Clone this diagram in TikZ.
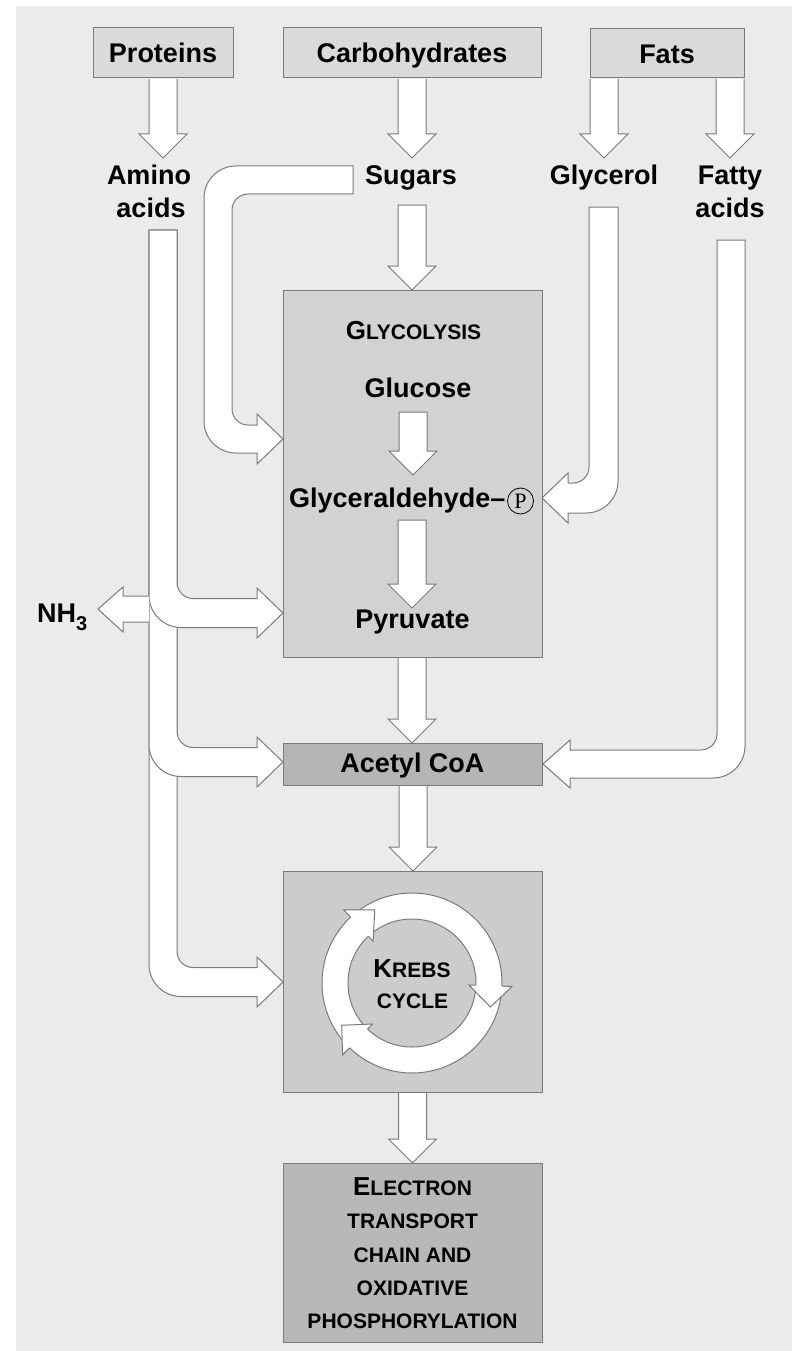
\documentclass[tikz,border=0pt]{standalone}
\usepackage{fontspec}
\setmainfont{Liberation Sans}
\newfontfamily\serifP{Liberation Serif}
\definecolor{bgc}{HTML}{EBEBEB}
\definecolor{topbox}{HTML}{DADADA}
\definecolor{glyc}{HTML}{D2D2D2}
\definecolor{acet}{HTML}{B5B5B5}
\definecolor{krebsc}{HTML}{CCCCCC}
\definecolor{etcc}{HTML}{B8B8B8}
\definecolor{linec}{HTML}{7A7A7A}
\tikzset{
  blk/.style={fill=white, draw=linec, line width=1pt, line join=miter},
  box/.style={draw=linec, line width=1pt, inner sep=0pt, outer sep=0pt},
  lblfont/.style={font=\fontsize{27}{32}\selectfont\bfseries},
  lbl/.style={lblfont, inner sep=0pt, anchor=base},
  sclbl/.style={font=\bfseries, inner sep=0pt, anchor=base},
}
\newcommand\BigC[1]{{\fontsize{26}{30}\selectfont #1}}
\newcommand\SmC[1]{{\fontsize{21}{25}\selectfont #1}}
% straight block arrow pointing down: x, top y, tip y, closing
\newcommand\dnarrow[4]{%
  \filldraw[blk] ({#1-14},#2) -- ({#1-14},{#3-24}) -- ({#1-24},{#3-24}) -- (#1,#3)
    -- ({#1+24},{#3-24}) -- ({#1+14},{#3-24}) -- ({#1+14},#2) #4;}
% branch of the amino-acid pipe: centre y of the horizontal part
\newcommand\aminobranch[1]{%
  \filldraw[blk] (149,230) -- (177,230) -- (177,{#1-30.5})
    .. controls (177,{#1-21.7}) and (184.2,{#1-14.5}) .. (193,{#1-14.5})
    -- (257,{#1-14.5}) -- (257,{#1-25}) -- (283,#1) -- (257,{#1+25}) -- (257,{#1+14.5})
    -- (181,{#1+14.5}) .. controls (163.3,{#1+14.5}) and (149,{#1+0.2}) .. (149,{#1-17.5})
    -- cycle;}
% arrow head on the Krebs ring: base angle, tip angle
\newcommand\ringhead[2]{%
  \fill[white] (#1:57) -- (#2:82) -- (#1:100) -- cycle;
  \draw[draw=linec, line width=1pt, line join=miter] (#1:90) -- (#1:100) -- (#2:82) -- (#1:57) -- (#1:64);}
\begin{document}
\begin{tikzpicture}[x=1pt, y=-1pt]
\useasboundingbox (0,0) rectangle (792,1351);
\fill[white] (0,0) rectangle (792,1351);
\fill[bgc] (16,6) rectangle (792,1351);

% boxes
\node[box, fill=topbox, minimum width=140pt, minimum height=50pt, lblfont, text height=20pt, text depth=0pt] (prot) at (163,53) {Proteins};
\node[box, fill=topbox, minimum width=258pt, minimum height=50pt, lblfont, text height=20pt, text depth=0pt] (carb) at (412,53) {Carbohydrates};
\node[box, fill=topbox, minimum width=154pt, minimum height=49pt, lblfont, text height=20pt, text depth=0pt] (fats) at (667,53.5) {Fats};
\node[box, fill=glyc, minimum width=259pt, minimum height=367pt] (glyco) at (412.5,473.5) {};
\node[box, fill=acet, minimum width=259pt, minimum height=42pt, lblfont, text height=19.5pt, text depth=3.5pt] (acetyl) at (412.5,764) {Acetyl CoA};
\node[box, fill=krebsc, minimum width=259pt, minimum height=221pt] (krebs) at (412.5,981.5) {};
\node[box, fill=etcc, minimum width=259pt, minimum height=179pt] (etc) at (412.5,1252.5) {};

% straight arrows
\dnarrow{163}{79}{158}{}
\dnarrow{412}{79}{158}{}
\dnarrow{604}{79}{158}{}
\dnarrow{730}{79}{158}{}
\dnarrow{412}{205}{290}{-- cycle}
\dnarrow{413}{412}{475}{-- cycle}
\dnarrow{412}{520}{608}{-- cycle}
\dnarrow{412}{658}{743}{}
\dnarrow{413}{786}{871}{}
\dnarrow{412.5}{1093}{1163}{}

% sugars -> glycolysis pipe
\filldraw[blk] (353,166) -- (236,166) .. controls (218.3,166) and (204,180.3) .. (204,198)
  -- (204,421) .. controls (204,438.7) and (218.3,453) .. (236,453)
  -- (257,453) -- (257,464) -- (283,439) -- (257,414) -- (257,425)
  -- (248,425) .. controls (239.2,425) and (232,417.8) .. (232,409)
  -- (232,210) .. controls (232,201.2) and (239.2,194) .. (248,194)
  -- (353,194) -- cycle;

% glycerol pipe
\filldraw[blk] (589,207) -- (618,207) -- (618,481) .. controls (618,498.7) and (603.7,513) .. (586,513)
  -- (568,513) -- (568,523) -- (542,498) -- (568,473) -- (568,483)
  -- (573,483) .. controls (581.8,483) and (589,475.8) .. (589,467) -- cycle;

% fatty acids pipe
\filldraw[blk] (717,240) -- (745,240) -- (745,746) .. controls (745,763.7) and (730.7,778) .. (713,778)
  -- (570,778) -- (570,788) -- (543,764) -- (570,740) -- (570,750)
  -- (701,750) .. controls (709.8,750) and (717,742.8) .. (717,734) -- cycle;

% amino acids pipes
\aminobranch{982}
\aminobranch{762}
\aminobranch{613}
% NH3 arrow
\filldraw[blk] (149,596) -- (123,596) -- (123,587) -- (98,609) -- (123,632) -- (123,622) -- (149,622);

% Krebs ring
\begin{scope}[shift={(412,983)}, yscale=-1]
  \filldraw[fill=white, draw=linec, line width=1pt] (0,0) circle (90);
  \filldraw[fill=krebsc, draw=linec, line width=1pt] (0,0) circle (64);
  \ringhead{133}{117}
  \ringhead{-2}{-17}
  \ringhead{226}{211}
\end{scope}

% labels
\node[lbl] (amino1) at (149,185) {Amino};
\node[lbl] (amino2) at (151,217) {acids};
\node[lbl] (sugars) at (411,185) {Sugars};
\node[lbl] (glycerol) at (604,185) {Glycerol};
\node[lbl] (fatty1) at (730,185) {Fatty};
\node[lbl] (fatty2) at (730,217) {acids};
\node[sclbl] (glytitle) at (413.5,339) {\BigC{G}\SmC{LYCOLYSIS}};
\node[lbl] (glucose) at (418,397) {Glucose};
\node[lbl, anchor=base west] (glyald) at (289,507) {Glyceraldehyde–};
\node[circle, draw=black, line width=0.8pt, minimum size=26pt, inner sep=0pt, font=\serifP\fontsize{22}{22}\selectfont] (phos) at (520.5,501) {P};
\node[lbl] (pyruvate) at (412.5,628) {Pyruvate};
\node[lbl, anchor=base west] (nh3) at (37,622) {NH\raisebox{-8pt}{\fontsize{20}{20}\selectfont 3}};
\node[sclbl] (krebs1) at (412,977) {\BigC{K}\SmC{REBS}};
\node[sclbl] (krebs2) at (412.5,1008) {\SmC{CYCLE}};
\node[sclbl] (etc1) at (412.5,1195) {\BigC{E}\SmC{LECTRON}};
\node[sclbl] (etc2) at (412.5,1228) {\SmC{TRANSPORT}};
\node[sclbl] (etc3) at (412.5,1262) {\SmC{CHAIN AND}};
\node[sclbl] (etc4) at (412.5,1295) {\SmC{OXIDATIVE}};
\node[sclbl] (etc5) at (412.5,1328) {\SmC{PHOSPHORYLATION}};
\end{tikzpicture}
\end{document}
